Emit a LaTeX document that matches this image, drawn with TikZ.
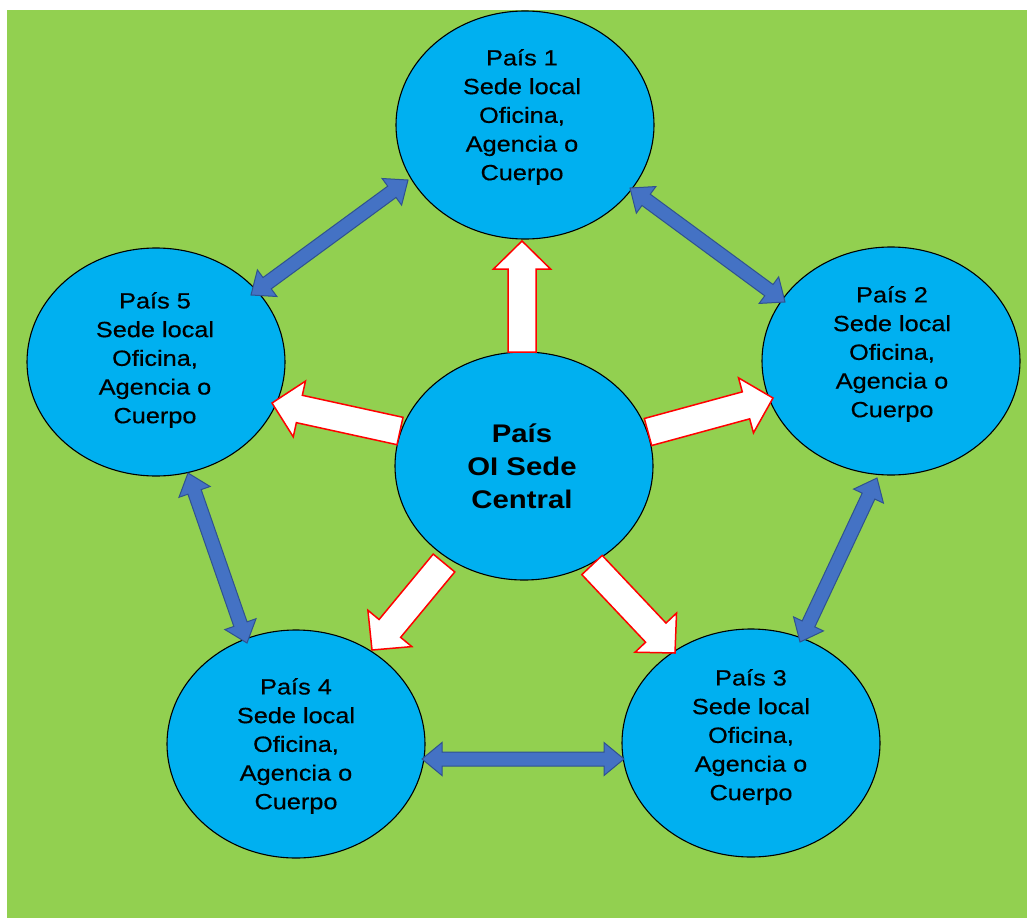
\documentclass[tikz,border=0pt]{standalone}
\usepackage{fontspec}
\setmainfont{Liberation Sans}
\newfontfamily\outerfont[FakeStretch=1.15,FakeBold=0.5]{Liberation Sans}
\newfontfamily\mainfont[FakeStretch=1.15]{Liberation Sans}
\usetikzlibrary{calc,shapes.geometric}
\definecolor{bggreen}{HTML}{92D050}
\definecolor{circblue}{HTML}{00B0F0}
\definecolor{arrblue}{HTML}{4472C4}
\definecolor{arrblueline}{HTML}{2F528F}
\definecolor{arrred}{HTML}{FF0000}
% single-headed block arrow: style, tail, tip, shaft half width, head half width, head length
\newcommand\blockarrowone[6]{%
  \coordinate (hB) at ($(#3)!#6!(#2)$);
  \path[#1] ($(#2)!#4!90:(#3)$) -- ($(hB)!#4!90:(#3)$) -- ($(hB)!#5!90:(#3)$) -- (#3)
    -- ($(hB)!#5!-90:(#3)$) -- ($(hB)!#4!-90:(#3)$) -- ($(#2)!#4!-90:(#3)$) -- cycle;
}
% double-headed block arrow: style, end A, end B, shaft half width, head half width, head length
\newcommand\blockarrowtwo[6]{%
  \coordinate (hA) at ($(#2)!#6!(#3)$);
  \coordinate (hB) at ($(#3)!#6!(#2)$);
  \path[#1] (#2) -- ($(hA)!#5!90:(#3)$) -- ($(hA)!#4!90:(#3)$) -- ($(hB)!#4!90:(#3)$)
    -- ($(hB)!#5!90:(#3)$) -- (#3) -- ($(hB)!#5!-90:(#3)$) -- ($(hB)!#4!-90:(#3)$)
    -- ($(hA)!#4!-90:(#3)$) -- ($(hA)!#5!-90:(#3)$) -- cycle;
}
\begin{document}
\begin{tikzpicture}[x=1pt,y=-1pt,
  country/.style={ellipse, draw=black, line width=1.1pt, fill=circblue,
    minimum width=258pt, minimum height=228pt, inner sep=0pt},
  ctext/.style={align=center, inner sep=0pt, text=black,
    font=\outerfont\fontsize{22}{28.7}\selectfont},
  maintext/.style={align=center, inner sep=0pt, text=black,
    font=\mainfont\bfseries\fontsize{25.5}{33}\selectfont},
  bluearrow/.style={fill=arrblue, draw=arrblueline, line width=1pt, line join=miter},
  whitearrow/.style={fill=white, draw=arrred, line width=1.5pt, line join=miter}]
\useasboundingbox (0,0) rectangle (1027,918);
\fill[white] (0,0) rectangle (1027,918);
\fill[bggreen] (7,10) rectangle (1027,918);

% circles
\node[country] (c0) at (524,466) {};
\node[country] (p1) at (525,125) {};
\node[country] (p2) at (891,361) {};
\node[country] (p3) at (751,743) {};
\node[country] (p4) at (296,744) {};
\node[country] (p5) at (156,362) {};

% arrow end points
\coordinate (w1t) at (522,352); \coordinate (w1h) at (522,241);
\coordinate (w2t) at (648,432); \coordinate (w2h) at (773,398);
\coordinate (w3t) at (592,565); \coordinate (w3h) at (675,653);
\coordinate (w4t) at (444,563); \coordinate (w4h) at (372,650);
\coordinate (w5t) at (400,431); \coordinate (w5h) at (272,403);

\coordinate (a1) at (630,188); \coordinate (a2) at (785,302);
\coordinate (b1) at (408,180); \coordinate (b2) at (251,295);
\coordinate (c1) at (877,478); \coordinate (c2) at (800,642);
\coordinate (d1) at (188,473); \coordinate (d2) at (247,643);
\coordinate (e1) at (422,759); \coordinate (e2) at (624,759);

% white arrows (centre to countries)
\blockarrowone{whitearrow}{w1t}{w1h}{14pt}{28.5pt}{28pt}
\blockarrowone{whitearrow}{w2t}{w2h}{14pt}{28.5pt}{28pt}
\blockarrowone{whitearrow}{w3t}{w3h}{14pt}{28.5pt}{28pt}
\blockarrowone{whitearrow}{w4t}{w4h}{14pt}{28.5pt}{28pt}
\blockarrowone{whitearrow}{w5t}{w5h}{14pt}{28.5pt}{28pt}

% blue double arrows (between countries)
\blockarrowtwo{bluearrow}{a1}{a2}{7pt}{16.5pt}{20pt}
\blockarrowtwo{bluearrow}{b1}{b2}{7pt}{16.5pt}{20pt}
\blockarrowtwo{bluearrow}{c1}{c2}{7pt}{16.5pt}{20pt}
\blockarrowtwo{bluearrow}{d1}{d2}{7pt}{16.5pt}{20pt}
\blockarrowtwo{bluearrow}{e1}{e2}{7pt}{16.5pt}{20pt}

% texts
\node[maintext] (tc) at (522,466) {País\\OI Sede\\Central};
\node[ctext] (t1) at (522,117) {País 1\\Sede local\\Oficina,\\Agencia o\\Cuerpo};
\node[ctext] (t2) at (892,354) {País 2\\Sede local\\Oficina,\\Agencia o\\Cuerpo};
\node[ctext] (t3) at (751,737) {País 3\\Sede local\\Oficina,\\Agencia o\\Cuerpo};
\node[ctext] (t4) at (296,746) {País 4\\Sede local\\Oficina,\\Agencia o\\Cuerpo};
\node[ctext] (t5) at (155,360) {País 5\\Sede local\\Oficina,\\Agencia o\\Cuerpo};
\end{tikzpicture}
\end{document}
